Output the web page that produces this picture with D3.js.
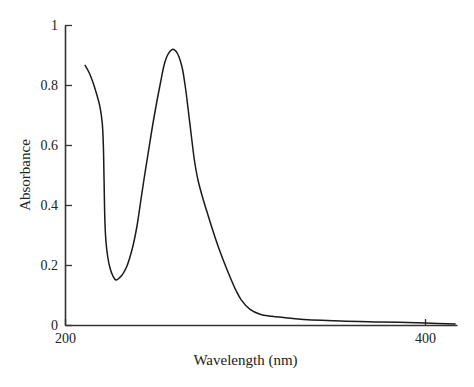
<!DOCTYPE html>
<html>
<head>
<meta charset="utf-8">
<script src="https://cdn.jsdelivr.net/npm/d3@7"></script>
<style>
  body { margin: 0; background: #fff; }
  svg text { font-family: 'Liberation Serif', 'DejaVu Serif', serif; fill: #222; }
</style>
</head>
<body>
<div id="chart"></div>
<script>
// spectrum
const wavelength = [211, 213.5, 215.7, 217.8, 219.4, 220.7, 221.3, 221.7, 222.2, 222.8, 223.8,
  225, 226.5, 228.3, 231.5, 234.3, 236.5, 238, 240, 242, 244, 246,
  249.1, 252.8, 255.6, 257.8, 260, 262.2, 264.8, 266.7, 268.5, 270.4,
  272, 274, 276.7, 279.5, 282.4, 285.2, 288, 291.7, 295, 298, 302.8, 308.3, 315, 321.3,
  331, 353, 375, 400, 417];
const absorbance = [0.867, 0.84, 0.806, 0.765, 0.728, 0.673, 0.6, 0.483, 0.34, 0.275, 0.225,
  0.19, 0.165, 0.15, 0.165, 0.195, 0.235, 0.27, 0.33, 0.41, 0.49, 0.565,
  0.68, 0.8, 0.878, 0.908, 0.919, 0.908, 0.865, 0.8, 0.715, 0.62,
  0.545, 0.48, 0.42, 0.365, 0.31, 0.26, 0.215, 0.16, 0.115, 0.083, 0.052, 0.036, 0.029, 0.025,
  0.019, 0.013, 0.010, 0.007, 0.003];
const yTicks = [0, 0.2, 0.4, 0.6, 0.8, 1];
const xTicks = [200, 400];

const margin = { top: 25, right: 17, bottom: 62, left: 65 },
  width = 474 - margin.left - margin.right,
  height = 387 - margin.top - margin.bottom;

const svg = d3.select('#chart')
  .append('svg')
  .attr('width', 474)
  .attr('height', 387)
  .append('g')
  .attr('transform', `translate(${margin.left},${margin.top})`);

const x = d3.scaleLinear().domain([200, 200 + width / 1.8]).range([0, width]);
const y = d3.scaleLinear().domain([0, 1]).range([height, 0]);

// y axis, ticks pointing into the plot
const yAxis = svg.append('g')
  .call(d3.axisLeft(y).tickValues(yTicks).tickFormat(d3.format('')).tickSizeInner(-7).tickSizeOuter(0).tickPadding(7));

// x axis, ticks pointing up
const xAxis = svg.append('g')
  .attr('transform', `translate(0,${height})`)
  .call(d3.axisBottom(x).tickValues(xTicks).tickSizeInner(-6).tickSizeOuter(0).tickPadding(8));

[yAxis, xAxis].forEach(a => {
  a.attr('font-family', "'Liberation Serif', serif").attr('font-size', 14);
  a.select('.domain').attr('stroke', '#333').attr('stroke-width', 1.6);
  a.selectAll('.tick line').attr('stroke', '#333').attr('stroke-width', 1.3);
  a.selectAll('.tick text').attr('fill', '#222');
});

const data = wavelength.map((w, i) => ({ w, a: absorbance[i] }));

svg.append('path')
  .datum(data)
  .attr('fill', 'none')
  .attr('stroke', '#1a1a1a')
  .attr('stroke-width', 1.5)
  .attr('d', d3.line()
    .x(d => x(d.w))
    .y(d => y(d.a))
    .curve(d3.curveCatmullRom.alpha(0.5)));

svg.append('text')
  .attr('x', 245.5 - margin.left)
  .attr('y', height + 40)
  .attr('text-anchor', 'middle')
  .style('font-size', '15px')
  .text('Wavelength (nm)');

svg.append('text')
  .attr('transform', `translate(${30 - margin.left},${175 - margin.top}) rotate(-90)`)
  .attr('text-anchor', 'middle')
  .style('font-size', '15px')
  .text('Absorbance');
</script>
</body>
</html>
